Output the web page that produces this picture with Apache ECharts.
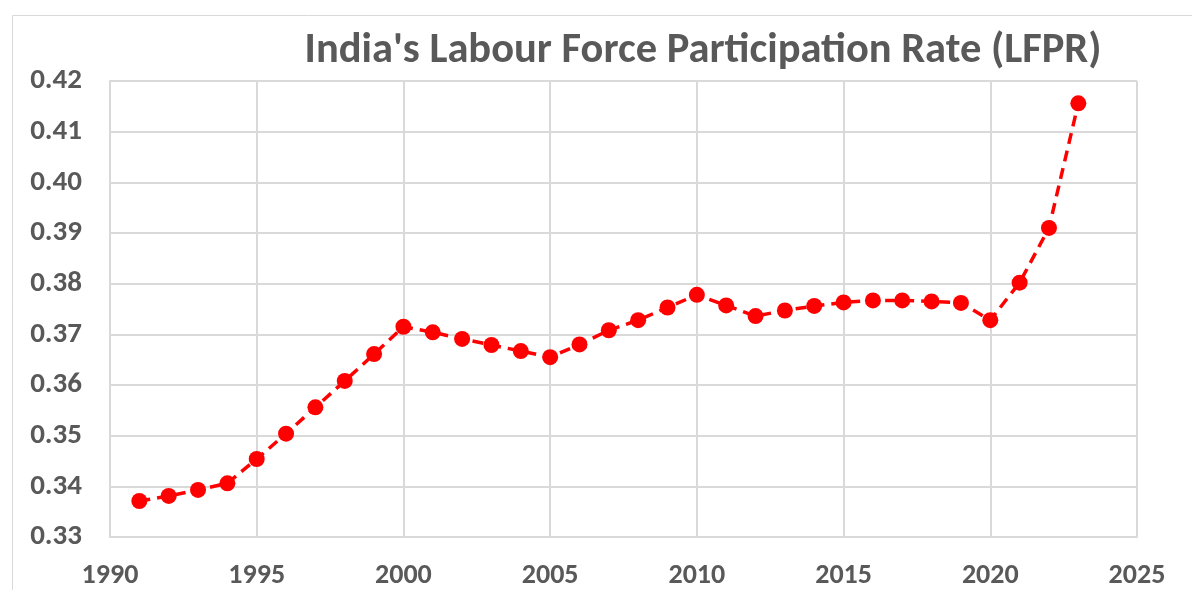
<!DOCTYPE html>
<html>
<head>
<meta charset="utf-8">
<script src="https://cdn.jsdelivr.net/npm/echarts@6/dist/echarts.min.js"></script>
<style>
  html, body { margin: 0; padding: 0; background: #fff; }
  #main { width: 1192px; height: 590px; }
</style>
</head>
<body>
<div id="main"></div>
<script>
// data
const years = [1991, 1992, 1993, 1994, 1995, 1996, 1997, 1998, 1999, 2000,
  2001, 2002, 2003, 2004, 2005, 2006, 2007, 2008, 2009, 2010,
  2011, 2012, 2013, 2014, 2015, 2016, 2017, 2018, 2019, 2020,
  2021, 2022, 2023];
const lfpr = [0.3371, 0.3381, 0.3393, 0.3406, 0.3454, 0.3504, 0.3556, 0.3608, 0.3661, 0.3715,
  0.3704, 0.3691, 0.3679, 0.3667, 0.3655, 0.3680, 0.3708, 0.3728, 0.3753, 0.3778,
  0.3757, 0.3736, 0.3747, 0.3756, 0.3763, 0.3767, 0.3767, 0.3765, 0.3762, 0.3728,
  0.3802, 0.3910, 0.4156];
const title = "India's Labour Force Participation Rate (LFPR)";

const font = 'Carlito, "Liberation Sans Narrow", "Liberation Sans", sans-serif';
const grey = "#595959";
const gridGrey = "#d9d9d9";

const chart = echarts.init(document.getElementById("main"));
const option = {
  animation: false,
  backgroundColor: "#fff",
  title: {
    text: title,
    left: 698,
    top: 25,
    textAlign: "center",
    textStyle: { fontFamily: font, fontWeight: "bold", fontSize: 42.5, color: grey },
  },
  grid: { left: 110, right: 55, top: 81, bottom: 52 },
  xAxis: {
    type: "value",
    min: 1990,
    max: 2025,
    interval: 5,
    axisLine: { show: true, lineStyle: { color: gridGrey, width: 2 } },
    axisTick: { show: false },
    splitLine: { show: true, lineStyle: { color: gridGrey, width: 2 } },
    axisLabel: {
      margin: 25,
      formatter: (v) => String(v),
      fontFamily: font,
      fontWeight: "bold",
      fontSize: 28,
      color: grey,
    },
  },
  yAxis: {
    type: "value",
    min: 0.33,
    max: 0.42,
    interval: 0.01,
    axisLine: { show: true, lineStyle: { color: gridGrey, width: 2 } },
    axisTick: { show: false },
    splitLine: { show: true, lineStyle: { color: gridGrey, width: 2 } },
    axisLabel: {
      margin: 28,
      formatter: (v) => v.toFixed(2),
      fontFamily: font,
      fontWeight: "bold",
      fontSize: 29,
      color: grey,
    },
  },
  graphic: [
    {
      type: "polyline",
      shape: { points: [[12.5, 600], [12.5, 15.5], [1200, 15.5]] },
      style: { stroke: gridGrey, lineWidth: 1, fill: null },
      silent: true,
    },
  ],
  series: [
    {
      type: "line",
      data: years.map((y, i) => [y, lfpr[i]]),
      symbol: "circle",
      symbolSize: 16,
      itemStyle: { color: "#ff0000" },
      lineStyle: { color: "#ff0000", width: 3.5, type: [11, 7] },
    },
  ],
};
chart.setOption(option);
</script>
</body>
</html>
